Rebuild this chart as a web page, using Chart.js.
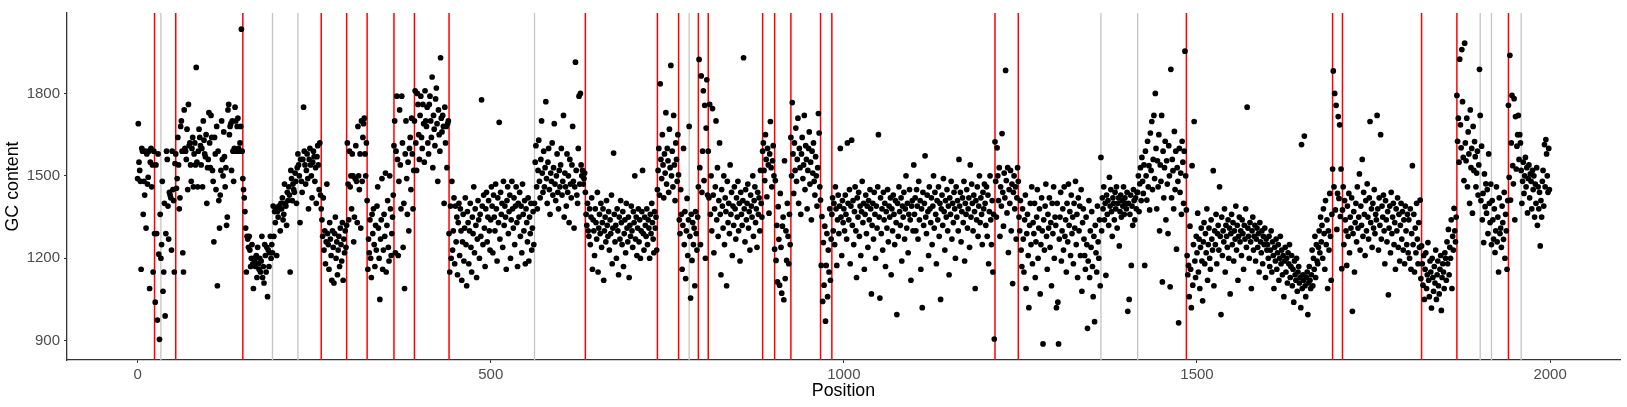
<!DOCTYPE html>
<html><head><meta charset="utf-8">
<script src="https://cdn.jsdelivr.net/npm/chart.js@4.4.1/dist/chart.umd.min.js"></script>
<style>html,body{margin:0;padding:0;background:#fff}#wrap{width:1627px;height:407px;position:relative}</style>
</head><body><div id="wrap"><canvas id="c"></canvas></div>
<script>
// GC content per position, in blocks of 100 positions (block k starts at position k*100)
const gc00=[1490,1690,1550,1520,1480,1160,1600,1590,1360,1480,1430,1590,1310,1580,1470,1495,1590,1090,1550,1600,1460,1540,1150,1590,
1290,1040,1540,1290,975,1580,1215,905,1360,1200,1250,1480,1080,1150,1400,990,1290,1590,1560,1390,1270,1440,1430,1420,1230,1590,1450,1410,1150,1545,
1580,1455,1490,1640,1540,1380,1420,1680,1700,1590,1220,1150,1740,1600,1590,1560,1670,1450,1760,1610,1620,1540,1480,1600,1640,1460,1580,1620,1540,1895,
1550,1460,1590,1670,1640,1610,1540,1600,1460,1700,1630,1580,1570,1650,1400,1530];
const gc01=[1560,1730,1620,1530,1720,1640,1520,1480,1260,1640,1580,1450,1680,1100,1590,1410,1310,1430,1520,1700,1560,1500,1660,1570,1460,1530,1320,1350,1740,1760,
1650,1680,1690,1520,1700,1590,1480,1600,1750,1700,1590,1680,1710,1600,1590,1620,1680,2034,1590,
1490,1450,1420,1370,1310,1150,1280,1270,1240,1280,1230,1170,1200,1250,1180,1090,1200,1190,1170,1210,1130,1240,1180,1160,1200,1150,1190,1280,1130,1170,
1110,1250,1210,1150,1240,1060,1230,1170,1220,1280,1200,1250,
1220,1390,1280,1370,1330,1380,1210,1370,1350];
const gc02=[1390,1380,1300,1400,1380,1420,1340,1360,1470,1400,1390,1320,1440,1410,1460,1430,1150,1520,1490,1410,1470,1450,1440,1510,1480,1400,1530,
1580,1540,1500,1330,1560,1480,1440,1560,1750,1590,1540,1470,1520,1580,1490,1380,1560,1600,1540,1500,1420,1550,1590,1570,1480,1530,1400,1570,1610,1540,1450,1620,1430,
1380,1340,1280,1420,1230,1300,1180,1260,1470,1290,1250,1160,1330,1270,1210,1120,1300,1240,1110,1290,1350,1200,1260,1140,1230,1280,1170,1310,1250,1190,1330,1120,1270,1220,1300,1240,
1320,1620,1470,1340];
const gc03=[1590,1460,1500,1380,1580,1500,1260,1350,1490,1610,1480,1330,1680,1500,1450,1580,1310,1700,1480,1640,1690,1710,1580,1500,1620,
1410,1160,1270,1220,1340,1200,1130,1360,1290,1380,1250,1170,1320,1230,1390,1460,1310,1200,1050,1270,1340,1490,1160,1230,1360,1280,1510,1150,1320,1410,1240,1190,1500,1380,1210,1290,1350,1430,
1610,1700,1220,1590,1790,1560,1210,1480,1740,1540,1380,1790,1620,1240,1400,1090,1580,1700,1490,1360,1550,1300,1600,1640,1450,1710,1580,1380,1520,
1700,1810,1620,1520,1800,1760,1650,1560];
const gc04=[1720,1790,1640,1600,1760,1690,1550,1810,1700,1680,1750,1620,1580,1760,1790,1700,1640,1860,1530,1720,1670,1610,1780,1820,1690,1480,1740,1650,1590,1930,1710,1660,1720,1680,1400,1750,1620,1680,1530,1690,1700,
1290,1150,1390,1200,1480,1230,1300,1420,1180,1390,1260,1350,1140,1330,1400,1210,1380,1300,1120,1260,1360,1190,1310,1420,1250,1100,1370,1330,1180,1300,
1400,1240,1150,1350,1290,1460,1220,1380,1320,1130,1270,1410,1340,1200,1360,1280,1777,1390,1250,1430,1310,1170,1380,1440,1260,1350,1410,1300,1230];
const gc05=[1340,1460,1390,1220,1430,1350,1300,1470,1380,1190,1420,1330,1695,1270,1440,1360,1400,1240,1480,1320,1390,1350,1160,1410,1460,1290,1370,1430,1200,1340,
1480,1380,1310,1420,1250,1390,1460,1330,1170,1400,1350,1440,1280,1390,1220,1470,1360,1300,1410,1180,1380,1330,1260,1420,1190,1350,1290,1400,1230,1310,1370,1250,
1400,1550,1610,1460,1380,1520,1630,1480,1420,1560,1700,1510,1440,1590,1460,1530,1770,1490,1400,1550,1600,1450,1360,1510,1480,1620,1430,1530,1690,1470,1410,1500,1580,1440,1380,1520,1460,1540];
const gc06=[1600,1430,1480,1720,1350,1510,1460,1390,1580,1440,1500,1330,1560,1470,1420,1540,1680,1480,1310,1460,1914,1520,1430,1400,1600,1790,1470,1800,1540,1500,1520,1470,1490,1510,
1440,1360,1320,1400,1300,1280,1380,1250,1350,1420,1160,1340,1300,1210,1380,1330,1270,1440,1150,1310,1360,1290,1400,1240,1330,1380,1120,1300,1350,1260,
1410,1320,1280,1370,1230,1340,1290,1430,1180,1310,1583,1360,1260,1320,1200,1380,1300,1140,1350,1270,1410,1330,1250,1370,1170,1290,1340,1220,1400,1310,1260,1350,1130,1320,1280,1390];
const gc07=[1300,1240,1370,1330,1500,1270,1350,1210,1310,1380,1260,1340,1200,1300,1370,1520,1290,1230,1350,1320,1280,1380,1250,1340,1310,1200,1360,1290,1400,1330,1270,1220,1370,1310,1350,1230,
1450,1520,1600,1430,1835,1560,1490,1650,1540,1420,1580,1510,1730,1470,1600,1555,1440,1670,1530,1902,1500,1590,1460,1720,1540,1410,1620,1560,1480,1650,
1504,1340,1290,1450,1360,1160,1320,1600,1250,1370,1126,1300,1418,1210,1340,1680,1280,1055,1360,1192,1330,1250,1310,1100,1370,1290,1230,1350,
1460,1924,1530,1250,1864,1440];
const gc08=[1590,1810,1483,1757,1200,1674,1850,1430,
1590,1420,1760,1360,1500,1300,1745,1430,1220,1380,1460,1700,1340,1530,1280,1410,1620,1360,1140,1450,1390,1310,1500,1250,1420,1370,1100,1480,1330,1400,
1290,1540,1360,1440,1210,1390,1320,1460,1380,1270,1420,1350,1480,1300,1400,1190,1440,1360,1320,1410,1930,1380,1260,1450,1340,1400,1470,1310,1370,1230,
1430,1390,1350,1500,1280,1410,1460,1330,1380,1240,1440,1360,1420,1300,1520,1400,1350,
1590,1620,1520,1483,1650,1560,1424,1600,1540,1364,1580,1698,1530,1460,1555];
const gc09=[1610,1500,
1233,1483,1192,1320,1114,1388,1269,1102,1436,1240,1073,1317,1350,1049,1555,1126,1300,1192,1400,1280,1180,1360,1250,
1640,1500,1767,1580,1436,1620,1520,1674,1480,1560,1710,1400,1600,1530,1360,1580,1640,1490,1540,1720,1450,1610,1560,1380,1520,1600,1660,1470,1550,1340,
1590,1510,1620,1480,1430,1570,1500,1390,1530,1727,1656,1460,
1412,1174,1352,1043,1257,1102,1317,971,1174,1290,1060,1230,1150,1380,1120,1270,
1360,1420,1300,1400,1250,1460,1380,1174,1340,1430,1290,1390,1600,1350,1210,1410,1330];
const gc10=[1380,1300,1430,1360,1270,1620,1400,1340,1450,1180,1390,1630,1320,1410,1250,1370,1460,1300,1130,1420,
1350,1440,1280,1390,1210,1370,1480,1330,1400,1160,1360,1430,1290,1390,1240,1410,1340,1450,1380,1070,
1320,1400,1270,1440,1360,1200,1390,1310,1460,1650,1350,1055,1420,1290,1380,1230,1440,1340,1400,1170,
1370,1310,1450,1260,1390,1350,1420,1140,1380,1300,1430,1360,1250,1410,1330,995,1400,1280,1460,1370,
1320,1420,1190,1390,1350,1440,1270,1380,1500,1310,1400,1220,1360,1450,1340,1120,1390,1410,1300,1540];
const gc11=[1360,1420,1300,1450,1390,1270,1480,1340,1410,1160,1380,1020,1440,1320,1400,1573,1350,1290,1430,1370,
1210,1460,1380,1330,1420,1250,1390,1500,1310,1440,1360,1180,1410,1340,1460,1280,1400,1050,1380,1430,
1320,1490,1370,1230,1410,1350,1450,1300,1390,1140,1420,1360,1480,1270,1400,1330,1440,1380,1200,1460,
1350,1410,1300,1560,1390,1440,1260,1370,1420,1330,1480,1190,1400,1360,1450,1310,1380,1420,1240,1540,
1350,1470,1400,1300,1430,1370,1090,1410,1340,1460,1280,1390,1500,1330,1420,1360,1250,1440,1380,1470];
const gc12=[1400,1320,1460,1280,1430,1180,1370,1500,1340,1250,1410,1150,1360,906,
1624,1480,1350,1602,1500,1410,1530,1280,1460,1390,1654,1440,1317,1510,1420,1884,1483,1365,1530,1221,1450,1400,1520,1300,1470,1108,1440,1500,1380,1460,1270,1420,1530,
1480,1350,1300,1410,1230,1170,1380,1270,1150,1340,1430,1090,1290,1360,1210,1020,1320,1400,1250,1460,1180,1330,1290,1400,1130,1260,1350,1450,1200,1310,
1380,1070,1250,1420,1300,888,1340,1230,1390,1470,1280,1160,1360,1310,1420,1240,1330,1100,1400,1290,1460,1200,1350];
const gc13=[1320,1020,1400,1040,888,1270,1350,1440,1190,1300,1380,1230,1460,1280,1340,1150,1400,1260,1470,1320,1370,1210,1430,1290,1350,1180,1400,1310,1480,1250,
1360,1130,1420,1300,1390,1210,1450,1080,1330,1380,1270,1210,1160,1350,1250,945,1190,1410,1130,1300,1240,1370,1170,1060,1280,969,1320,1220,1150,1390,1260,1200,1340,1100,
1567,1300,1420,1380,1460,1340,1400,1138,1430,1360,1410,1320,1495,1390,1450,1370,1280,1420,1400,1340,1440,1380,1460,1310,1400,1420,1245,1370,1430,1350,1410,1390,1460,1360,1420,1400];
const gc14=[1380,1440,1007,1400,1050,1360,1430,1174,1390,1320,1450,1410,1340,1420,1380,1440,
1440,1500,1370,1471,1530,1410,1567,1480,1436,1540,1174,1590,1500,1412,1626,1460,1537,1376,1656,1520,1698,1450,1560,1720,1490,1800,1600,1380,1555,1460,
1650,1300,1540,1480,1720,1114,1590,1420,1530,1626,1340,1555,1470,1290,1610,1500,1096,1888,1420,1560,1519,1380,1662,1450,1590,1233,1530,1480,965,1600,
1440,1510,1360,1626,1550,1400,1590,1954,1500,
1376,1210,1140,1174,1060,1317,1160,1020,1537,1102,1250,1698,1190,1130,1280];
const gc15=[1220,1364,1150,1270,1090,1240,1310,1190,1045,1260,1330,1180,1290,1220,1380,1120,1250,1310,1200,1160,
1340,1270,1230,1519,1100,1300,1250,1360,1180,1290,1320,1230,1460,1280,995,1350,1210,1300,1260,1380,
1150,1320,1280,1240,1340,1200,1310,1070,1290,1360,1250,1330,1190,1300,1270,1390,1230,1320,1120,1280,
1350,1260,1300,1210,1340,1290,1160,1320,1270,1380,1240,1750,1310,1280,1200,1330,1260,1090,1300,1350,
1230,1280,1320,1190,1270,1310,1240,1290,1150,1330,1260,1220,1300,1180,1280,1250,1310,1130,1270,1230];
const gc16=[1250,1200,1280,1170,1230,1300,1150,1260,1210,1090,1240,1190,1270,1160,1220,1250,1120,1200,1280,1180,
1230,1140,1210,1060,1190,1240,1150,1200,1110,1220,1180,1250,1130,1170,1210,1100,1160,1040,1190,1140,
1120,1200,1080,1150,1170,1110,1130,1020,1614,1090,1140,1120,1645,1100,1060,1130,1150,995,1110,1170,
1120,1090,1140,1230,1100,1200,1160,1280,1130,1250,1190,1180,1240,1300,1220,1350,1260,1320,1200,1380,
1290,1160,1410,1250,1340,1090,1300,1230,1436,1280,1120,1360,
1525,1882,1460,1800,1376,1757,1305,1436];
const gc17=[1716,1418,1686,1352,1525,1162,
1376,1460,1250,1410,1340,1300,1174,1390,1280,1436,1220,1350,1310,1420,1007,1290,1370,1150,1330,1400,
1260,1460,1310,1350,1507,1230,1390,1320,1560,1280,1440,1360,1210,1410,1300,1471,1350,1270,1420,1698,
1330,1380,1240,1400,1310,1450,1290,1360,1340,1720,1380,1230,1420,1320,1650,1270,1390,1350,1430,1300,
1180,1410,1340,1260,1370,1067,1310,1390,1220,1440,1290,1350,1400,1250,1330,1160,1380,1300,1420,1240,
1360,1190,1320,1400,1270,1370,1230,1340,1180,1390,1300,1250,1360,1220];
const gc18=[1340,1200,1380,1160,1290,1537,1250,1360,1150,1310,1220,1400,1270,1180,1330,1240,1412,1126,
1245,1180,1102,1210,1050,1160,1220,1090,1140,1257,1120,1060,1190,1150,1019,1200,1130,1080,1170,1110,
1230,1050,1140,1190,1100,1070,1160,1210,1010,1130,1180,1150,1090,1220,1200,1120,1260,1180,1305,1140,
1240,1200,1340,1090,1280,1230,1382,1300,1260,1350,
1793,1626,1710,1550,1925,1686,1602,1960,1770,1567,1483,1983,1620,1555,1710,1460,1660,1580,1400,1740,
1530,1600,1364,1680,1520,1625,1570,1460,1510,1590,1430,1540];
const gc19=[1888,1720,1410,1608,1340,1436,1257,1507,1388,1471,1364,1450,1290,1580,1400,1330,1470,
1250,1410,1340,1270,1380,1221,1300,1460,1260,1350,1150,1420,1290,1310,1240,1390,1330,1269,1440,1200,1360,1300,1160,1410,
1757,1495,1939,1412,1620,1793,1537,1471,1781,1340,1716,1525,1608,1650,1720,1560,1650,1620,
1520,1400,1480,1550,1436,1500,1567,1460,1530,1365,1490,1540,1420,1507,1480,1380,1520,1450,1500,1350,
1470,1400,1530,1320,1460,1380,1440,1245,1410,1350,1480,1520,1390,1614,1460,1632,1580,1500,1440,1600,1450];

// marked positions
const redLines=[24,54,149,260,296,325,363,392,441,634,736,766,794,808,885,902,925,967,983,1214,1247,1485,1692,1706,1818,1868,1941];
const grayLines=[33,191,227,562,781,1364,1416,1901,1917,1959];

// axes
const xTicks=[0,500,1000,1500,2000];
const yTicks=[900,1200,1500,1800];
const xTitle='Position';
const yTitle='GC content';

const blocks=[gc00,gc01,gc02,gc03,gc04,gc05,gc06,gc07,gc08,gc09,gc10,gc11,gc12,gc13,gc14,gc15,gc16,gc17,gc18,gc19];
const points=blocks.flatMap((arr,b)=>arr.map((v,i)=>({x:b*100+i,y:v})));

const FONT='"Liberation Sans", Arial, Helvetica, sans-serif';

const vlines={id:'vlines',beforeDatasetsDraw(chart){
  const {ctx,chartArea:a,scales:{x}}=chart;
  ctx.save();
  const draw=(vals,color,w)=>{ctx.strokeStyle=color;ctx.lineWidth=w;
    vals.forEach(v=>{const px=x.getPixelForValue(v);ctx.beginPath();ctx.moveTo(px,a.top);ctx.lineTo(px,a.bottom);ctx.stroke();});};
  draw(grayLines,'#C4C4C4',1.3);
  draw(redLines,'#FF0000',1.5);
  ctx.restore();
}};

new Chart(document.getElementById('c'),{
  type:'scatter',
  data:{datasets:[{data:points,pointRadius:2.85,pointHoverRadius:2.85,backgroundColor:'#000',borderWidth:0}]},
  plugins:[vlines],
  options:{
    responsive:true,maintainAspectRatio:false,animation:false,events:[],
    layout:{padding:{top:6,right:7,left:0,bottom:0}},
    plugins:{legend:{display:false},tooltip:{enabled:false}},
    scales:{
      x:{type:'linear',min:-99.95,max:2098.95,
        afterBuildTicks:s=>{s.ticks=xTicks.map(v=>({value:v}));},
        afterFit:s=>{s.height=47;},
        grid:{drawOnChartArea:false,drawTicks:true,tickLength:3,color:'#333333',lineWidth:1},
        border:{display:true,color:'#333333',width:1.3},
        ticks:{color:'#4D4D4D',font:{family:FONT,size:15},padding:3,maxRotation:0,autoSkip:false,callback:v=>String(v)},
        title:{display:true,text:xTitle,color:'#000',font:{family:FONT,size:17.8},padding:{top:0,bottom:5.3}}
      },
      y:{type:'linear',min:829.6,max:2093,
        afterBuildTicks:s=>{s.ticks=yTicks.map(v=>({value:v}));},
        afterFit:s=>{s.width=67;},
        grid:{drawOnChartArea:false,drawTicks:true,tickLength:3,color:'#333333',lineWidth:1},
        border:{display:true,color:'#333333',width:1.3},
        ticks:{color:'#4D4D4D',font:{family:FONT,size:15},padding:4,autoSkip:false,callback:v=>String(v)},
        title:{display:true,text:yTitle,color:'#000',font:{family:FONT,size:17.8},padding:{top:2.8,bottom:0}}
      }
    }
  }
});
</script>
</body></html>
